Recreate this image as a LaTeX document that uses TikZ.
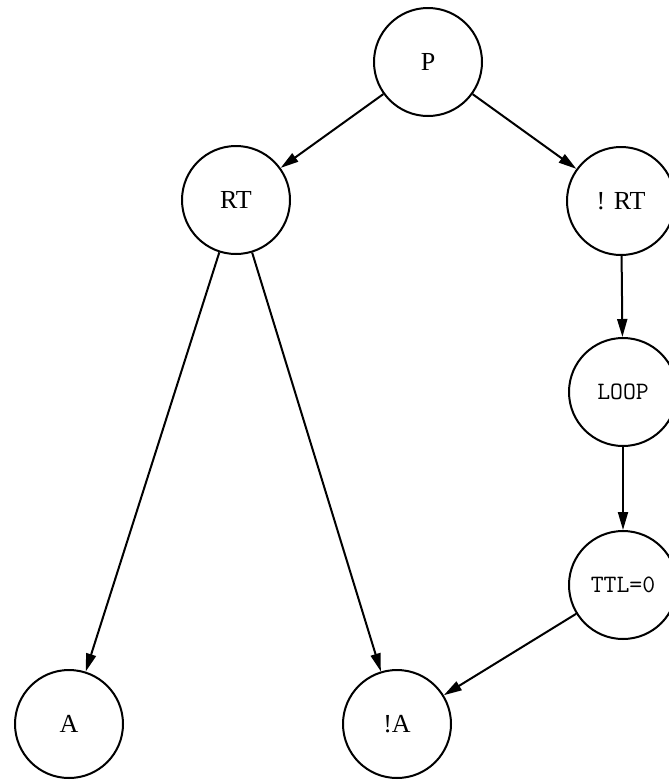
\documentclass[tikz,border=0pt]{standalone}
\usepackage{fontspec}
\setmainfont{Liberation Serif}
\usetikzlibrary{arrows.meta}
\begin{document}
\begin{tikzpicture}[x=1pt,y=-1pt,
  state/.style={circle, draw, line width=2pt, minimum size=108pt, inner sep=0pt,
                font=\fontsize{26}{30}\selectfont},
  codestate/.style={state, font=\ttfamily\fontsize{25}{29}\selectfont},
  edge/.style={line width=2pt, -{Triangle[length=18pt,width=10pt]}}]
  \useasboundingbox (0,0) rectangle (669,780);
  \node[state] (p) at (428,62) {P};
  \node[state] (rt) at (236,200) {RT};
  \node[state] (nrt) at (621,201) {! RT};
  \node[codestate] (loop) at (623,392) {LOOP};
  \node[codestate] (ttl) at (623,585) {TTL=0};
  \node[state] (a) at (69,724) {A};
  \node[state] (na) at (397,724) {!A};
  \draw[edge] (p) -- (rt);
  \draw[edge] (p) -- (nrt);
  \draw[edge] (rt) -- (a);
  \draw[edge] (rt) -- (na);
  \draw[edge] (nrt) -- (loop);
  \draw[edge] (loop) -- (ttl);
  \draw[edge] (ttl) -- (na);
\end{tikzpicture}
\end{document}
